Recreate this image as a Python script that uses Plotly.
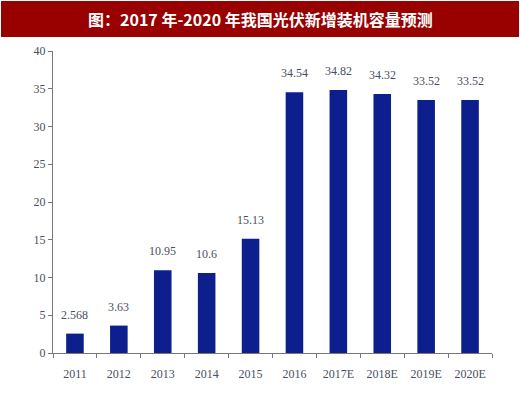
import plotly.graph_objects as go

categories = ["2011", "2012", "2013", "2014", "2015", "2016", "2017E", "2018E", "2019E", "2020E"]
values = [2.568, 3.63, 10.95, 10.6, 15.13, 34.54, 34.82, 34.32, 33.52, 33.52]
labels = ["2.568", "3.63", "10.95", "10.6", "15.13", "34.54", "34.82", "34.32", "33.52", "33.52"]
y_ticks = [0, 5, 10, 15, 20, 25, 30, 35, 40]
title_text = "图：2017 年-2020 年我国光伏新增装机容量预测"

W, H = 520, 395
L, R, T, B = 53, 28, 51, 42
pw, ph = W - L - R, H - T - B
label_font = dict(family="Liberation Serif", size=12, color="#4a5060")

fig = go.Figure()
fig.add_trace(go.Bar(
    x=categories, y=values,
    marker=dict(color="#0c1f8c", line=dict(width=0)),
    width=0.4, hoverinfo="skip",
))

annotations = [dict(
    x=i, y=v, text=t, xref="x", yref="y", showarrow=False,
    xanchor="center", yanchor="bottom", yshift=10, font=label_font,
) for i, (v, t) in enumerate(zip(values, labels))]

annotations.append(dict(
    text="<b>" + title_text + "</b>", xref="paper", yref="paper",
    x=(260 - L) / pw, y=1 + (T - 19) / ph, xanchor="center", yanchor="middle",
    showarrow=False, font=dict(family="Noto Sans CJK SC", size=16, color="white"),
))

fig.update_layout(
    width=W, height=H,
    margin=dict(l=L, r=R, t=T, b=B),
    plot_bgcolor="white", paper_bgcolor="white",
    showlegend=False,
    xaxis=dict(
        type="category", categoryorder="array", categoryarray=categories,
        showline=True, linecolor="#777777", linewidth=1,
        ticks="outside", tickson="boundaries", ticklen=4, tickcolor="#777777",
        ticklabelstandoff=10, tickangle=0,
        tickfont=label_font, showgrid=False, zeroline=False,
    ),
    yaxis=dict(
        range=[0, 40], tickvals=y_ticks, showline=True, linecolor="#777777", linewidth=1,
        ticks="outside", ticklen=4, tickcolor="#777777",
        tickfont=label_font, showgrid=False, zeroline=False,
    ),
    shapes=[dict(
        type="rect", xref="paper", yref="paper",
        x0=(1 - L) / pw, x1=(519 - L) / pw,
        y0=1 + (T - 37) / ph, y1=1 + (T - 1) / ph,
        fillcolor="#990000", line=dict(width=0), layer="above",
    )],
    annotations=annotations,
)

fig.write_html(
    "out.html",
    config={"displayModeBar": False},
    post_script="document.body.style.margin='0';document.body.style.padding='0';",
)
